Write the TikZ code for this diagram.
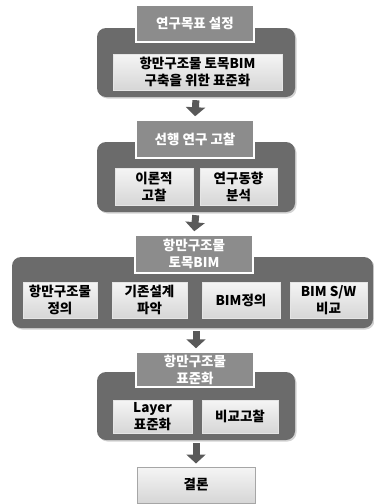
\documentclass[tikz,border=0pt]{standalone}
\usepackage{fontspec}
\newfontfamily\kor{Noto Sans CJK KR}
\usetikzlibrary{arrows.meta,positioning,shadows}
\definecolor{groupgray}{gray}{0.42}
\definecolor{titlegray}{gray}{0.55}
\definecolor{arrowgray}{gray}{0.35}

\begin{document}
\begin{tikzpicture}[
    x=1pt,y=-1pt,
    font=\kor\bfseries\fontsize{13.5}{17}\selectfont,
    group/.style={fill=groupgray,rounded corners=9pt,inner sep=0pt,
                  drop shadow={opacity=0.35,shadow xshift=1.5pt,shadow yshift=-1.5pt}},
    titlebox/.style={fill=titlegray,draw=white,line width=1.5pt,text=white,
                     inner sep=0pt,minimum width=118pt,align=center},
    itembox/.style={top color=gray!8,bottom color=gray!32,draw=gray!20,
                    inner sep=0pt,align=center,text=black},
    flow/.style={arrowgray,line width=7pt,shorten <=3pt,shorten >=3pt,
                 -{Triangle[width=19pt,length=9pt]}}]
\useasboundingbox (0,0) rectangle (374,504);
% step 1
\node (g1) [group,minimum width=198pt,minimum height=69pt] at (196,62.5) {};
\node (t1) [titlebox,minimum height=37pt] at (195,23.5) {연구목표 설정};
\node (b1) [itembox,minimum width=169pt,minimum height=36pt] at (197.5,72)
      {항만구조물 토목BIM\\구축을 위한 표준화};
% step 2
\node (g2) [group,minimum width=198pt,minimum height=70pt] at (196,177) {};
\node (t2) [titlebox,minimum height=38pt] at (195,139) {선행 연구 고찰};
\node (b21) [itembox,minimum width=78pt,minimum height=37pt] at (154,186.5)
      {이론적\\고찰};
\node (b22) [itembox,minimum width=77pt,minimum height=37pt] at (238.5,186.5)
      {연구동향\\분석};
% step 3
\node (g3) [group,minimum width=361pt,minimum height=71pt] at (192.5,292.5) {};
\node (t3) [titlebox,minimum height=38pt] at (194,254) {항만구조물\\토목BIM};
\node (b31) [itembox,minimum width=74pt,minimum height=36pt] at (60,300)
      {항만구조물\\정의};
\node (b32) [itembox,minimum width=75pt,minimum height=36pt] at (149.5,300)
      {기존설계\\파악};
\node (b33) [itembox,minimum width=78pt,minimum height=36pt] at (241,300)
      {BIM정의};
\node (b34) [itembox,minimum width=77pt,minimum height=36pt] at (328.5,300)
      {BIM S/W\\비교};
% step 4
\node (g4) [group,minimum width=198pt,minimum height=68pt] at (196,406) {};
\node (t4) [titlebox,minimum height=35pt] at (195,369.5) {항만구조물\\표준화};
\node (b41) [itembox,minimum width=79pt,minimum height=33pt] at (152.5,416.5)
      {Layer\\표준화};
\node (b42) [itembox,minimum width=76pt,minimum height=33pt] at (240,416.5)
      {비교고찰};
% result
\node (res) [itembox,draw=gray!70,line width=1pt,minimum width=118pt,
             minimum height=36pt] at (196,485) {결론};
\draw[flow] (g1.south) -- (t2.north);
\draw[flow] (g2.south) -- (t3.north);
\draw[flow] (g3.south -| g2.south) -- (t4.north -| g2.south);
\draw[flow] (g4.south) -- (res.north);
\end{tikzpicture}
\end{document}
